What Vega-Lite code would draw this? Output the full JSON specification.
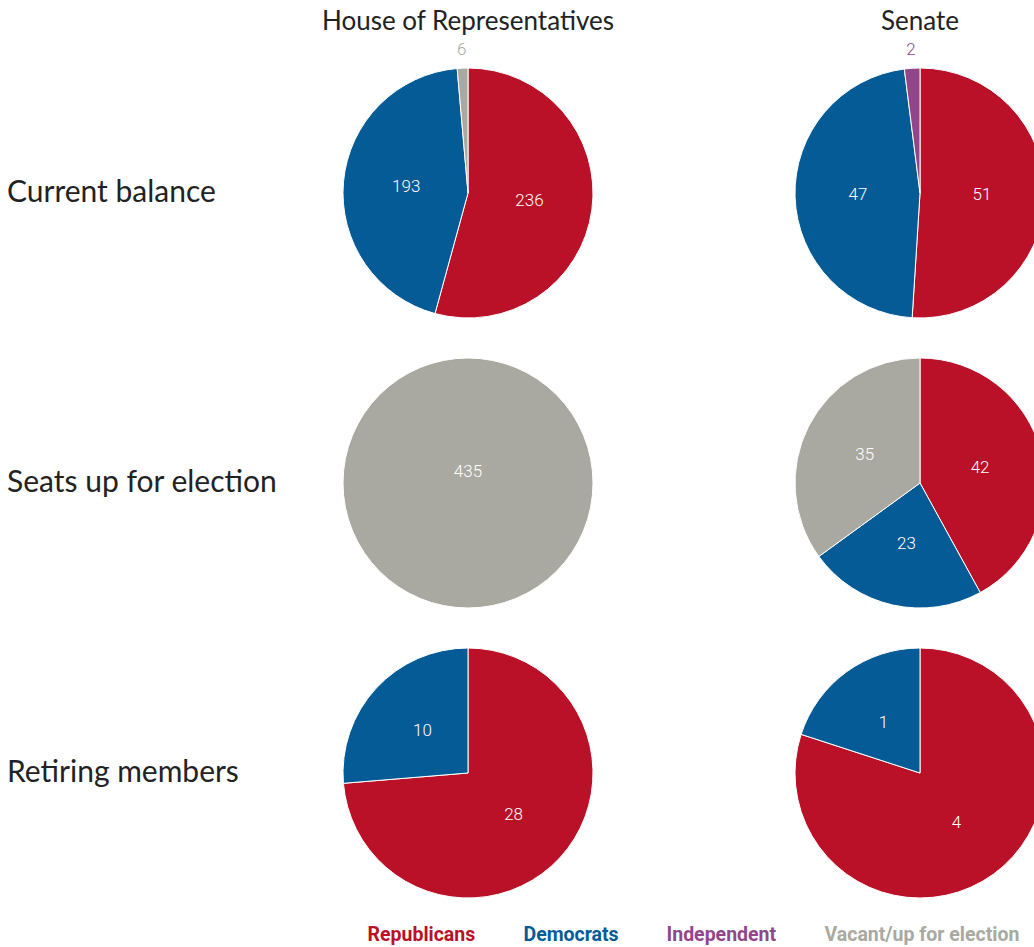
{
  "$schema": "https://vega.github.io/schema/vega-lite/v6.json",
  "padding": {"left": 7, "top": 9, "right": 0, "bottom": 0},
  "data": {"values": [
    {"category": "Current balance", "chamber": "House of Representatives", "party": "Republicans", "seats": 236},
    {"category": "Current balance", "chamber": "House of Representatives", "party": "Democrats", "seats": 193},
    {"category": "Current balance", "chamber": "House of Representatives", "party": "Vacant/up for election", "seats": 6},
    {"category": "Current balance", "chamber": "Senate", "party": "Republicans", "seats": 51},
    {"category": "Current balance", "chamber": "Senate", "party": "Democrats", "seats": 47},
    {"category": "Current balance", "chamber": "Senate", "party": "Independent", "seats": 2},
    {"category": "Seats up for election", "chamber": "House of Representatives", "party": "Vacant/up for election", "seats": 435},
    {"category": "Seats up for election", "chamber": "Senate", "party": "Republicans", "seats": 42},
    {"category": "Seats up for election", "chamber": "Senate", "party": "Democrats", "seats": 23},
    {"category": "Seats up for election", "chamber": "Senate", "party": "Vacant/up for election", "seats": 35},
    {"category": "Retiring members", "chamber": "House of Representatives", "party": "Republicans", "seats": 28},
    {"category": "Retiring members", "chamber": "House of Representatives", "party": "Democrats", "seats": 10},
    {"category": "Retiring members", "chamber": "Senate", "party": "Republicans", "seats": 4},
    {"category": "Retiring members", "chamber": "Senate", "party": "Democrats", "seats": 1}
  ]},
  "columns": 3,
  "spacing": {"row": 0, "column": 162},
  "bounds": "flush",
  "concat": [
    {
      "width": 154, "height": 290,
      "transform": [{"filter": {"field": "category", "equal": "Current balance"}}, {"aggregate": [{"op": "count", "as": "n"}], "groupby": ["category"]}],
      "mark": {"type": "text", "align": "left", "baseline": "middle", "font": "Lato", "fontSize": 30, "fill": "#222222"},
      "encoding": {
        "x": {"field": "category", "type": "nominal", "axis": null, "scale": {"type": "point", "padding": 0, "align": 0}},
        "text": {"field": "category", "type": "nominal"}
      }
    },
    {
      "width": 290, "height": 290,
      "title": {"text": "House of Representatives", "font": "Lato", "fontSize": 26, "fontWeight": "normal", "color": "#222222", "anchor": "middle", "frame": "group", "offset": 6},
      "transform": [
        {"filter": {"field": "category", "equal": "Current balance"}},
        {"filter": {"field": "chamber", "equal": "House of Representatives"}},
        {"window": [{"op": "row_number", "as": "slice_order"}]},
        {"joinaggregate": [{"op": "sum", "field": "seats", "as": "total"}]}
      ],
      "encoding": {
        "theta": {"field": "seats", "type": "quantitative", "stack": "normalize"},
        "order": {"field": "slice_order", "type": "quantitative"},
        "detail": {"field": "party", "type": "nominal"}
      },
      "layer": [
        {"mark": {"type": "arc", "outerRadius": 125, "stroke": "#ffffff", "strokeWidth": 1},
         "encoding": {"color": {"field": "party", "type": "nominal",
           "scale": {"domain": ["Republicans", "Democrats", "Independent", "Vacant/up for election"], "range": ["#BA1128", "#045B96", "#92468A", "#A9A9A1"]},
           "legend": {
              "orient": "none", "legendX": 341, "legendY": 877, "direction": "horizontal", "title": null,
              "symbolSize": 0, "symbolStrokeWidth": 0, "symbolOpacity": 0, "labelOffset": 0,
              "columnPadding": 28, "labelFont": "Roboto", "labelFontWeight": "bold", "labelFontSize": 19.5,
              "labelLimit": 400,
              "labelColor": {"expr": "scale('color', datum.value)"},
              "encode": {"labels": {"update": {"fill": {"scale": "color", "field": "value"}}}}
           }}}},
        {"mark": {"type": "text", "radius": 62, "font": "Roboto", "fontWeight": 300, "fontSize": 17, "fill": "#ffffff"},
         "encoding": {"text": {"condition": {"test": "datum.seats / datum.total >= 0.05 && datum.seats < datum.total", "field": "seats", "type": "quantitative"}, "value": ""}}},
        {"mark": {"type": "text", "radius": 0, "dy": -11, "font": "Roboto", "fontWeight": 300, "fontSize": 17, "fill": "#ffffff"},
         "encoding": {"text": {"condition": {"test": "datum.seats == datum.total", "field": "seats", "type": "quantitative"}, "value": ""}}},
        {"mark": {"type": "text", "radius": 143, "font": "Roboto", "fontWeight": 300, "fontSize": 17},
         "encoding": {
           "color": {"field": "party", "type": "nominal", "scale": {"domain": ["Republicans", "Democrats", "Independent", "Vacant/up for election"], "range": ["#BA1128", "#045B96", "#92468A", "#A9A9A1"]}},
           "text": {"condition": {"test": "datum.seats / datum.total < 0.05", "field": "seats", "type": "quantitative"}, "value": ""}}}
      ]
    },
    {
      "width": 290, "height": 290,
      "title": {"text": "Senate", "font": "Lato", "fontSize": 26, "fontWeight": "normal", "color": "#222222", "anchor": "middle", "frame": "group", "offset": 6},
      "transform": [
        {"filter": {"field": "category", "equal": "Current balance"}},
        {"filter": {"field": "chamber", "equal": "Senate"}},
        {"window": [{"op": "row_number", "as": "slice_order"}]},
        {"joinaggregate": [{"op": "sum", "field": "seats", "as": "total"}]}
      ],
      "encoding": {
        "theta": {"field": "seats", "type": "quantitative", "stack": "normalize"},
        "order": {"field": "slice_order", "type": "quantitative"},
        "detail": {"field": "party", "type": "nominal"}
      },
      "layer": [
        {"mark": {"type": "arc", "outerRadius": 125, "stroke": "#ffffff", "strokeWidth": 1},
         "encoding": {"color": {"field": "party", "type": "nominal", "scale": {"domain": ["Republicans", "Democrats", "Independent", "Vacant/up for election"], "range": ["#BA1128", "#045B96", "#92468A", "#A9A9A1"]}}}},
        {"mark": {"type": "text", "radius": 62, "font": "Roboto", "fontWeight": 300, "fontSize": 17, "fill": "#ffffff"},
         "encoding": {"text": {"condition": {"test": "datum.seats / datum.total >= 0.05 && datum.seats < datum.total", "field": "seats", "type": "quantitative"}, "value": ""}}},
        {"mark": {"type": "text", "radius": 0, "dy": -11, "font": "Roboto", "fontWeight": 300, "fontSize": 17, "fill": "#ffffff"},
         "encoding": {"text": {"condition": {"test": "datum.seats == datum.total", "field": "seats", "type": "quantitative"}, "value": ""}}},
        {"mark": {"type": "text", "radius": 143, "font": "Roboto", "fontWeight": 300, "fontSize": 17},
         "encoding": {
           "color": {"field": "party", "type": "nominal", "scale": {"domain": ["Republicans", "Democrats", "Independent", "Vacant/up for election"], "range": ["#BA1128", "#045B96", "#92468A", "#A9A9A1"]}},
           "text": {"condition": {"test": "datum.seats / datum.total < 0.05", "field": "seats", "type": "quantitative"}, "value": ""}}}
      ]
    },
    {
      "width": 154, "height": 290,
      "transform": [{"filter": {"field": "category", "equal": "Seats up for election"}}, {"aggregate": [{"op": "count", "as": "n"}], "groupby": ["category"]}],
      "mark": {"type": "text", "align": "left", "baseline": "middle", "font": "Lato", "fontSize": 30, "fill": "#222222"},
      "encoding": {
        "x": {"field": "category", "type": "nominal", "axis": null, "scale": {"type": "point", "padding": 0, "align": 0}},
        "text": {"field": "category", "type": "nominal"}
      }
    },
    {
      "width": 290, "height": 290,
      "transform": [
        {"filter": {"field": "category", "equal": "Seats up for election"}},
        {"filter": {"field": "chamber", "equal": "House of Representatives"}},
        {"window": [{"op": "row_number", "as": "slice_order"}]},
        {"joinaggregate": [{"op": "sum", "field": "seats", "as": "total"}]}
      ],
      "encoding": {
        "theta": {"field": "seats", "type": "quantitative", "stack": "normalize"},
        "order": {"field": "slice_order", "type": "quantitative"},
        "detail": {"field": "party", "type": "nominal"}
      },
      "layer": [
        {"mark": {"type": "arc", "outerRadius": 125, "stroke": "#ffffff", "strokeWidth": 1},
         "encoding": {"color": {"field": "party", "type": "nominal", "scale": {"domain": ["Republicans", "Democrats", "Independent", "Vacant/up for election"], "range": ["#BA1128", "#045B96", "#92468A", "#A9A9A1"]}}}},
        {"mark": {"type": "text", "radius": 62, "font": "Roboto", "fontWeight": 300, "fontSize": 17, "fill": "#ffffff"},
         "encoding": {"text": {"condition": {"test": "datum.seats / datum.total >= 0.05 && datum.seats < datum.total", "field": "seats", "type": "quantitative"}, "value": ""}}},
        {"mark": {"type": "text", "radius": 0, "dy": -11, "font": "Roboto", "fontWeight": 300, "fontSize": 17, "fill": "#ffffff"},
         "encoding": {"text": {"condition": {"test": "datum.seats == datum.total", "field": "seats", "type": "quantitative"}, "value": ""}}},
        {"mark": {"type": "text", "radius": 143, "font": "Roboto", "fontWeight": 300, "fontSize": 17},
         "encoding": {
           "color": {"field": "party", "type": "nominal", "scale": {"domain": ["Republicans", "Democrats", "Independent", "Vacant/up for election"], "range": ["#BA1128", "#045B96", "#92468A", "#A9A9A1"]}},
           "text": {"condition": {"test": "datum.seats / datum.total < 0.05", "field": "seats", "type": "quantitative"}, "value": ""}}}
      ]
    },
    {
      "width": 290, "height": 290,
      "transform": [
        {"filter": {"field": "category", "equal": "Seats up for election"}},
        {"filter": {"field": "chamber", "equal": "Senate"}},
        {"window": [{"op": "row_number", "as": "slice_order"}]},
        {"joinaggregate": [{"op": "sum", "field": "seats", "as": "total"}]}
      ],
      "encoding": {
        "theta": {"field": "seats", "type": "quantitative", "stack": "normalize"},
        "order": {"field": "slice_order", "type": "quantitative"},
        "detail": {"field": "party", "type": "nominal"}
      },
      "layer": [
        {"mark": {"type": "arc", "outerRadius": 125, "stroke": "#ffffff", "strokeWidth": 1},
         "encoding": {"color": {"field": "party", "type": "nominal", "scale": {"domain": ["Republicans", "Democrats", "Independent", "Vacant/up for election"], "range": ["#BA1128", "#045B96", "#92468A", "#A9A9A1"]}}}},
        {"mark": {"type": "text", "radius": 62, "font": "Roboto", "fontWeight": 300, "fontSize": 17, "fill": "#ffffff"},
         "encoding": {"text": {"condition": {"test": "datum.seats / datum.total >= 0.05 && datum.seats < datum.total", "field": "seats", "type": "quantitative"}, "value": ""}}},
        {"mark": {"type": "text", "radius": 0, "dy": -11, "font": "Roboto", "fontWeight": 300, "fontSize": 17, "fill": "#ffffff"},
         "encoding": {"text": {"condition": {"test": "datum.seats == datum.total", "field": "seats", "type": "quantitative"}, "value": ""}}},
        {"mark": {"type": "text", "radius": 143, "font": "Roboto", "fontWeight": 300, "fontSize": 17},
         "encoding": {
           "color": {"field": "party", "type": "nominal", "scale": {"domain": ["Republicans", "Democrats", "Independent", "Vacant/up for election"], "range": ["#BA1128", "#045B96", "#92468A", "#A9A9A1"]}},
           "text": {"condition": {"test": "datum.seats / datum.total < 0.05", "field": "seats", "type": "quantitative"}, "value": ""}}}
      ]
    },
    {
      "width": 154, "height": 290,
      "transform": [{"filter": {"field": "category", "equal": "Retiring members"}}, {"aggregate": [{"op": "count", "as": "n"}], "groupby": ["category"]}],
      "mark": {"type": "text", "align": "left", "baseline": "middle", "font": "Lato", "fontSize": 30, "fill": "#222222"},
      "encoding": {
        "x": {"field": "category", "type": "nominal", "axis": null, "scale": {"type": "point", "padding": 0, "align": 0}},
        "text": {"field": "category", "type": "nominal"}
      }
    },
    {
      "width": 290, "height": 290,
      "transform": [
        {"filter": {"field": "category", "equal": "Retiring members"}},
        {"filter": {"field": "chamber", "equal": "House of Representatives"}},
        {"window": [{"op": "row_number", "as": "slice_order"}]},
        {"joinaggregate": [{"op": "sum", "field": "seats", "as": "total"}]}
      ],
      "encoding": {
        "theta": {"field": "seats", "type": "quantitative", "stack": "normalize"},
        "order": {"field": "slice_order", "type": "quantitative"},
        "detail": {"field": "party", "type": "nominal"}
      },
      "layer": [
        {"mark": {"type": "arc", "outerRadius": 125, "stroke": "#ffffff", "strokeWidth": 1},
         "encoding": {"color": {"field": "party", "type": "nominal", "scale": {"domain": ["Republicans", "Democrats", "Independent", "Vacant/up for election"], "range": ["#BA1128", "#045B96", "#92468A", "#A9A9A1"]}}}},
        {"mark": {"type": "text", "radius": 62, "font": "Roboto", "fontWeight": 300, "fontSize": 17, "fill": "#ffffff"},
         "encoding": {"text": {"condition": {"test": "datum.seats / datum.total >= 0.05 && datum.seats < datum.total", "field": "seats", "type": "quantitative"}, "value": ""}}},
        {"mark": {"type": "text", "radius": 0, "dy": -11, "font": "Roboto", "fontWeight": 300, "fontSize": 17, "fill": "#ffffff"},
         "encoding": {"text": {"condition": {"test": "datum.seats == datum.total", "field": "seats", "type": "quantitative"}, "value": ""}}},
        {"mark": {"type": "text", "radius": 143, "font": "Roboto", "fontWeight": 300, "fontSize": 17},
         "encoding": {
           "color": {"field": "party", "type": "nominal", "scale": {"domain": ["Republicans", "Democrats", "Independent", "Vacant/up for election"], "range": ["#BA1128", "#045B96", "#92468A", "#A9A9A1"]}},
           "text": {"condition": {"test": "datum.seats / datum.total < 0.05", "field": "seats", "type": "quantitative"}, "value": ""}}}
      ]
    },
    {
      "width": 290, "height": 290,
      "transform": [
        {"filter": {"field": "category", "equal": "Retiring members"}},
        {"filter": {"field": "chamber", "equal": "Senate"}},
        {"window": [{"op": "row_number", "as": "slice_order"}]},
        {"joinaggregate": [{"op": "sum", "field": "seats", "as": "total"}]}
      ],
      "encoding": {
        "theta": {"field": "seats", "type": "quantitative", "stack": "normalize"},
        "order": {"field": "slice_order", "type": "quantitative"},
        "detail": {"field": "party", "type": "nominal"}
      },
      "layer": [
        {"mark": {"type": "arc", "outerRadius": 125, "stroke": "#ffffff", "strokeWidth": 1},
         "encoding": {"color": {"field": "party", "type": "nominal", "scale": {"domain": ["Republicans", "Democrats", "Independent", "Vacant/up for election"], "range": ["#BA1128", "#045B96", "#92468A", "#A9A9A1"]}}}},
        {"mark": {"type": "text", "radius": 62, "font": "Roboto", "fontWeight": 300, "fontSize": 17, "fill": "#ffffff"},
         "encoding": {"text": {"condition": {"test": "datum.seats / datum.total >= 0.05 && datum.seats < datum.total", "field": "seats", "type": "quantitative"}, "value": ""}}},
        {"mark": {"type": "text", "radius": 0, "dy": -11, "font": "Roboto", "fontWeight": 300, "fontSize": 17, "fill": "#ffffff"},
         "encoding": {"text": {"condition": {"test": "datum.seats == datum.total", "field": "seats", "type": "quantitative"}, "value": ""}}},
        {"mark": {"type": "text", "radius": 143, "font": "Roboto", "fontWeight": 300, "fontSize": 17},
         "encoding": {
           "color": {"field": "party", "type": "nominal", "scale": {"domain": ["Republicans", "Democrats", "Independent", "Vacant/up for election"], "range": ["#BA1128", "#045B96", "#92468A", "#A9A9A1"]}},
           "text": {"condition": {"test": "datum.seats / datum.total < 0.05", "field": "seats", "type": "quantitative"}, "value": ""}}}
      ]
    }
  ],
  "config": {"view": {"stroke": null}}
}
